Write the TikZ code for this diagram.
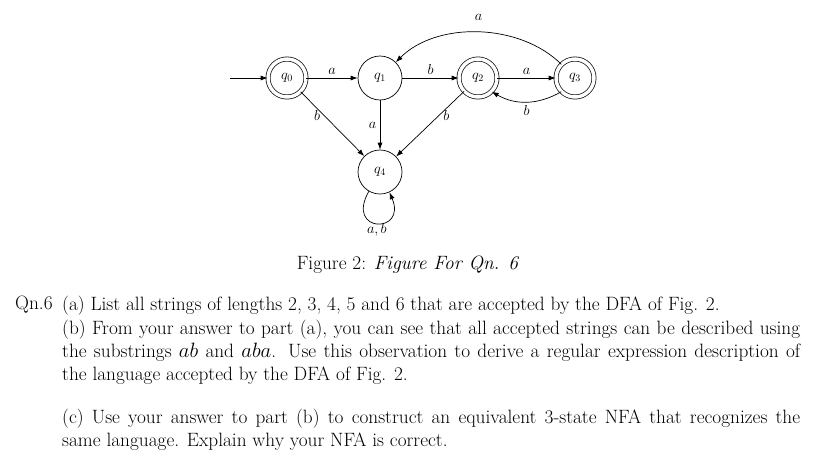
\documentclass[tikz,border=0pt]{standalone}
\usetikzlibrary{arrows.meta}
\begin{document}
\begin{tikzpicture}[x=1pt,y=-1pt,
  st/.style={circle,draw,line width=0.7pt,minimum size=44pt,inner sep=0pt,font=\fontsize{14}{16}\selectfont},
  acc/.style={st,double,double distance=3.5pt,minimum size=38pt},
  tr/.style={-{Latex[length=7pt,width=5pt]},line width=0.7pt},
  lab/.style={font=\fontsize{14}{16}\selectfont},
  txt/.style={font=\fontsize{19.3}{23}\selectfont,inner sep=0pt,anchor=north west}]
\useasboundingbox (0,0) rectangle (816,456);
\node[acc] (q0) at (287,78) {$q_0$};
\node[st] (q1) at (380,78) {$q_1$};
\node[acc] (q2) at (478,78) {$q_2$};
\node[acc] (q3) at (575,78) {$q_3$};
\node[st] (q4) at (380,172) {$q_4$};
\coordinate (s) at (230,78);
\draw[tr] (s) -- (q0);
\draw[tr] (q0) -- node[lab,above] {$a$} (q1);
\draw[tr] (q1) -- node[lab,above] {$b$} (q2);
\draw[tr] (q2) -- node[lab,above] {$a$} (q3);
\draw[tr] (q3.north west) to[out=135,in=45,looseness=0.9] node[lab,above=8pt] {$a$} (q1.north east);
\draw[tr] (q3.south west) to[bend left=30] node[lab,below] {$b$} (q2.south east);
\draw[tr] (q0) -- node[lab,pos=0.3,below left=-4pt] {$b$} (q4);
\draw[tr] (q1) -- node[lab,left] {$a$} (q4);
\draw[tr] (q2) -- node[lab,pos=0.3,below right=-4pt] {$b$} (q4);
\draw[tr] (q4.240) .. controls +(-24,42) and +(18,42) .. node[lab,below=-3pt] {$a,b$} (q4.295);
\node[txt,anchor=north] (cap) at (408,256) {Figure 2: \textit{Figure For Qn. 6}};
\node[txt] (qn) at (15,296) {Qn.6};
\node[txt,text width=738pt,align=justify] (pa) at (62,296) {(a) List all strings of lengths 2, 3, 4, 5 and 6 that are accepted by the DFA of Fig. 2.};
\node[txt,text width=738pt,align=justify] (pb) at (62,320) {(b) From your answer to part (a), you can see that all accepted strings can be described using\linebreak the substrings $ab$ and $aba$. Use this observation to derive a regular expression description of\linebreak the language accepted by the DFA of Fig. 2.};
\node[txt,text width=738pt,align=justify] (pc) at (62,409) {(c) Use your answer to part (b) to construct an equivalent 3-state NFA that recognizes the\linebreak same language. Explain why your NFA is correct.};
\end{tikzpicture}
\end{document}
